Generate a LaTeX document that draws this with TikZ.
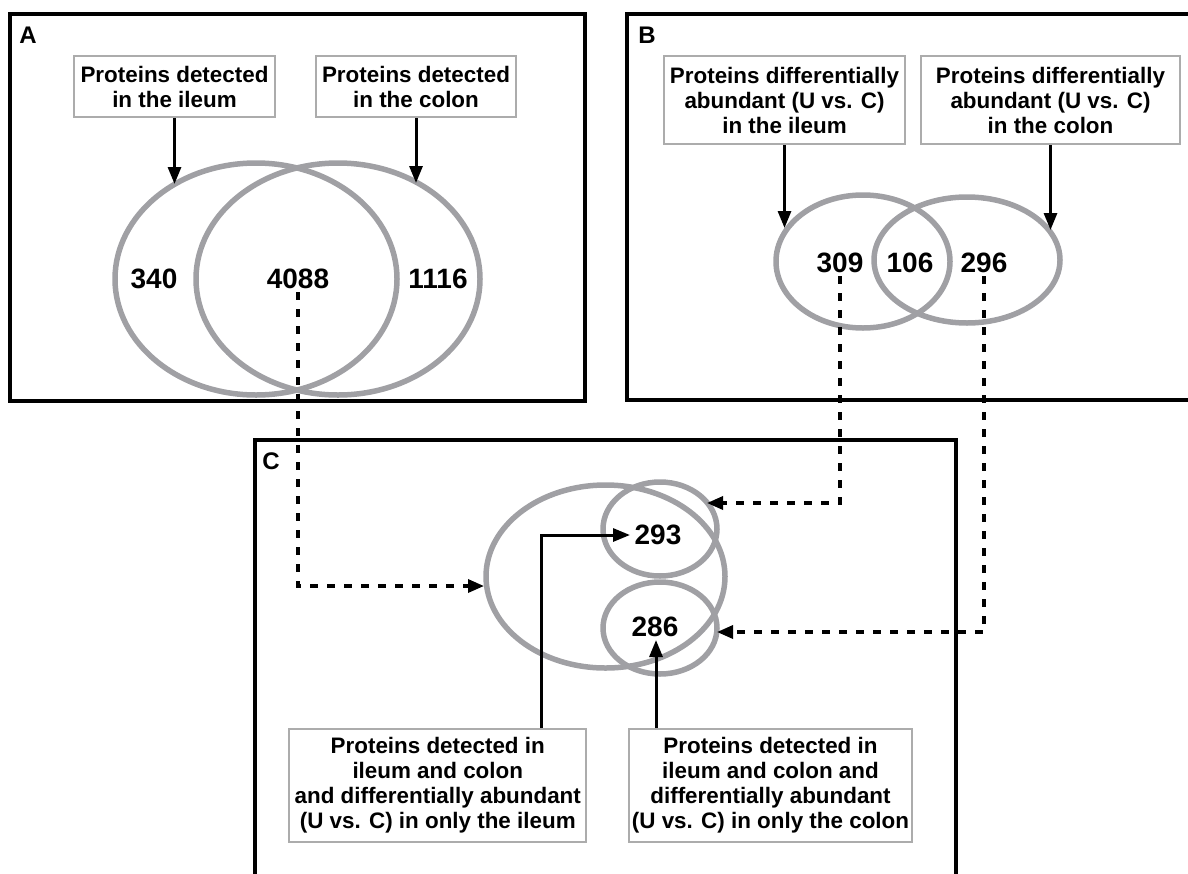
\documentclass[tikz,border=0pt]{standalone}
\usepackage{fontspec}
\setmainfont{Liberation Sans}
\usetikzlibrary{calc}
\usetikzlibrary{arrows.meta}
\definecolor{venngray}{RGB}{160,160,164}
\definecolor{boxgray}{RGB}{172,172,172}

\begin{document}
\begin{tikzpicture}[x=1pt, y=-1pt]% panels A, B, C
            \tikzstyle{frame} = [line width=4pt]
            \tikzstyle{set} = [draw=venngray, line width=5.5pt]
            \tikzstyle{label box} = [draw=boxgray, line width=2pt, fill=white, align=center, inner xsep=0pt, inner ysep=8pt, font=\bfseries\fontsize{22.4}{25}\selectfont]
            \tikzstyle{count} = [font=\bfseries\fontsize{28}{30}\selectfont]
            \tikzstyle{panel} = [font=\bfseries\fontsize{24}{26}\selectfont]
            \tikzstyle{arrow} = [line width=3pt, -{Triangle[length=17pt, width=13pt]}]
            \tikzstyle{dash arrow} = [line width=3.3pt, dash pattern=on 8pt off 9pt, -{Triangle[length=16pt, width=13pt]}]
            \useasboundingbox (0, 0) rectangle (1188, 873);
            % panel A
            \draw[frame] (10, 14) rectangle (585, 401);
            \node[panel] (label A) at (28, 35) {A};
            \draw[set] (256, 279) ellipse [x radius=141, y radius=116];
            \draw[set] (338, 279) ellipse [x radius=142, y radius=116];
            \node[label box, minimum width=201pt, minimum height=61pt] (box ileum) at (174.5, 86.5) {Proteins detected\\in the ileum};
            \node[label box, minimum width=200pt, minimum height=61pt] (box colon) at (416, 86.5) {Proteins detected\\in the colon};
            \coordinate (tip ileum) at (174.5, 184);
            \coordinate (tip colon) at (416, 183);
            \draw[arrow] (box ileum.south) -- (tip ileum);
            \draw[arrow] (box colon.south) -- (tip colon);
            \node[count] (n340) at (154, 279) {340};
            \node[count] (n4088) at (298, 279) {4088};
            \node[count] (n1116) at (438, 279) {1116};
            % panel B
            \draw[frame] (627, 14) rectangle (1200, 400);
            \node[panel] (label B) at (647, 35) {B};
            \draw[set] (863, 261.5) ellipse [x radius=87, y radius=66.5];
            \draw[set] (967, 260) ellipse [x radius=93, y radius=63];
            \node[label box, minimum width=241pt, minimum height=88pt] (box diff ileum) at (784.5, 100) {Proteins differentially\\abundant (U vs. C)\\in the ileum};
            \node[label box, minimum width=259pt, minimum height=88pt] (box diff colon) at (1050.5, 100) {Proteins differentially\\abundant (U vs. C)\\in the colon};
            \coordinate (tip diff ileum) at (784.5, 228);
            \coordinate (tip diff colon) at (1050.5, 230);
            \draw[arrow] (box diff ileum.south) -- (tip diff ileum);
            \draw[arrow] (box diff colon.south) -- (tip diff colon);
            \node[count] (n309) at (840, 263) {309};
            \node[count] (n106) at (910, 263) {106};
            \node[count] (n296) at (984, 263) {296};
            % panel C
            \draw[frame] (254.6, 440) rectangle (955.7, 890);
            \node[panel] (label C) at (271, 461) {C};
            \draw[set] (605.5, 576.5) ellipse [x radius=119.5, y radius=91.5];
            \draw[set] (660, 529) ellipse [x radius=57, y radius=47];
            \draw[set] (660, 628) ellipse [x radius=57, y radius=46];
            \node[count] (n293) at (658, 535) {293};
            \node[count] (n286) at (655, 627) {286};
            \node[label box, minimum width=297pt, minimum height=113pt] (box only ileum) at (437.75, 785.5) {Proteins detected in\\ileum and colon\\and differentially abundant\\(U vs. C) in only the ileum};
            \node[label box, minimum width=283pt, minimum height=113pt] (box only colon) at (770.5, 785.5) {Proteins detected in\\ileum and colon and\\differentially abundant\\(U vs. C) in only the colon};
            \coordinate (turn293) at (541, 535);
            \coordinate (tip293) at (630, 535);
            \coordinate (tip286) at (656, 640);
            \draw[arrow] (box only ileum.north -| turn293) -- (turn293) -- (tip293);
            \draw[arrow] (box only colon.north -| tip286) -- (tip286);
            % dashed links between panels
            \coordinate (tip shared) at (484, 586);
            \coordinate (tip upper) at (707, 503);
            \coordinate (tip lower) at (717, 632);
            \draw[dash arrow] (n4088.south) |- (tip shared);
            \draw[dash arrow] (n309.south) |- (tip upper);
            \draw[dash arrow] (n296.south) |- (tip lower);
        \end{tikzpicture}
\end{document}
